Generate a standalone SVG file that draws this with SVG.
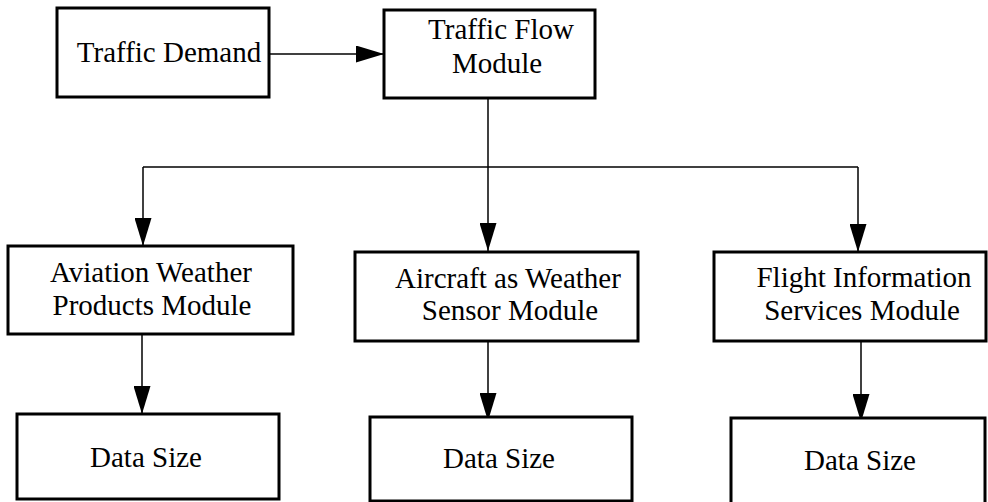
<svg xmlns="http://www.w3.org/2000/svg" width="988" height="502" viewBox="0 0 988 502">
  <style>
    .box { fill: #ffffff; stroke: #000000; stroke-width: 3; }
    .lbl { font-family: 'Liberation Serif', 'Times New Roman', serif; font-size: 29px; fill: #000000; text-anchor: middle; }
    .conn { stroke: #000000; stroke-width: 1.5; fill: none; marker-end: url(#arrow); }
    .plain { stroke: #000000; stroke-width: 1.5; fill: none; }
  </style>
  <defs>
    <marker id="arrow" markerUnits="userSpaceOnUse" markerWidth="28" markerHeight="17" refX="28" refY="8.5" orient="auto">
      <path d="M0,0 L28,8.5 L0,17 z" fill="#000000"/>
    </marker>
  </defs>

  <rect width="988" height="502" fill="#ffffff"/>

  <g id="connectors">
    <line class="conn" x1="270" y1="54" x2="384" y2="54"/>
    <line class="conn" x1="488" y1="98" x2="488" y2="251"/>
    <line class="plain" x1="143" y1="167" x2="858" y2="167"/>
    <line class="conn" x1="143" y1="167" x2="143" y2="246"/>
    <line class="conn" x1="858" y1="167" x2="858" y2="252"/>
    <line class="conn" x1="142" y1="334" x2="142" y2="414"/>
    <line class="conn" x1="488" y1="341" x2="488" y2="421"/>
    <line class="conn" x1="861" y1="341" x2="861" y2="422"/>
  </g>

  <g id="traffic-demand">
    <rect class="box" x="57" y="8" width="212" height="89"/>
    <text class="lbl" x="169" y="62">Traffic Demand</text>
  </g>

  <g id="traffic-flow">
    <rect class="box" x="384" y="10" width="211" height="88"/>
    <text class="lbl" x="501" y="39">Traffic Flow</text>
    <text class="lbl" x="497" y="73">Module</text>
  </g>

  <g id="aviation-weather">
    <rect class="box" x="8" y="246" width="285" height="88"/>
    <text class="lbl" x="151" y="282">Aviation Weather</text>
    <text class="lbl" x="152" y="315">Products Module</text>
  </g>

  <g id="aircraft-sensor">
    <rect class="box" x="355" y="252" width="283" height="89"/>
    <text class="lbl" x="508" y="288">Aircraft as Weather</text>
    <text class="lbl" x="510" y="320">Sensor Module</text>
  </g>

  <g id="flight-info">
    <rect class="box" x="714" y="252" width="272" height="89"/>
    <text class="lbl" x="864" y="287">Flight Information</text>
    <text class="lbl" x="862" y="320">Services Module</text>
  </g>

  <g id="data-size-1">
    <rect class="box" x="17" y="414" width="262" height="85"/>
    <text class="lbl" x="146" y="467">Data Size</text>
  </g>

  <g id="data-size-2">
    <rect class="box" x="370" y="417" width="262" height="84"/>
    <text class="lbl" x="499" y="468">Data Size</text>
  </g>

  <g id="data-size-3">
    <rect class="box" x="731" y="418" width="254" height="90"/>
    <text class="lbl" x="860" y="470">Data Size</text>
  </g>
</svg>
